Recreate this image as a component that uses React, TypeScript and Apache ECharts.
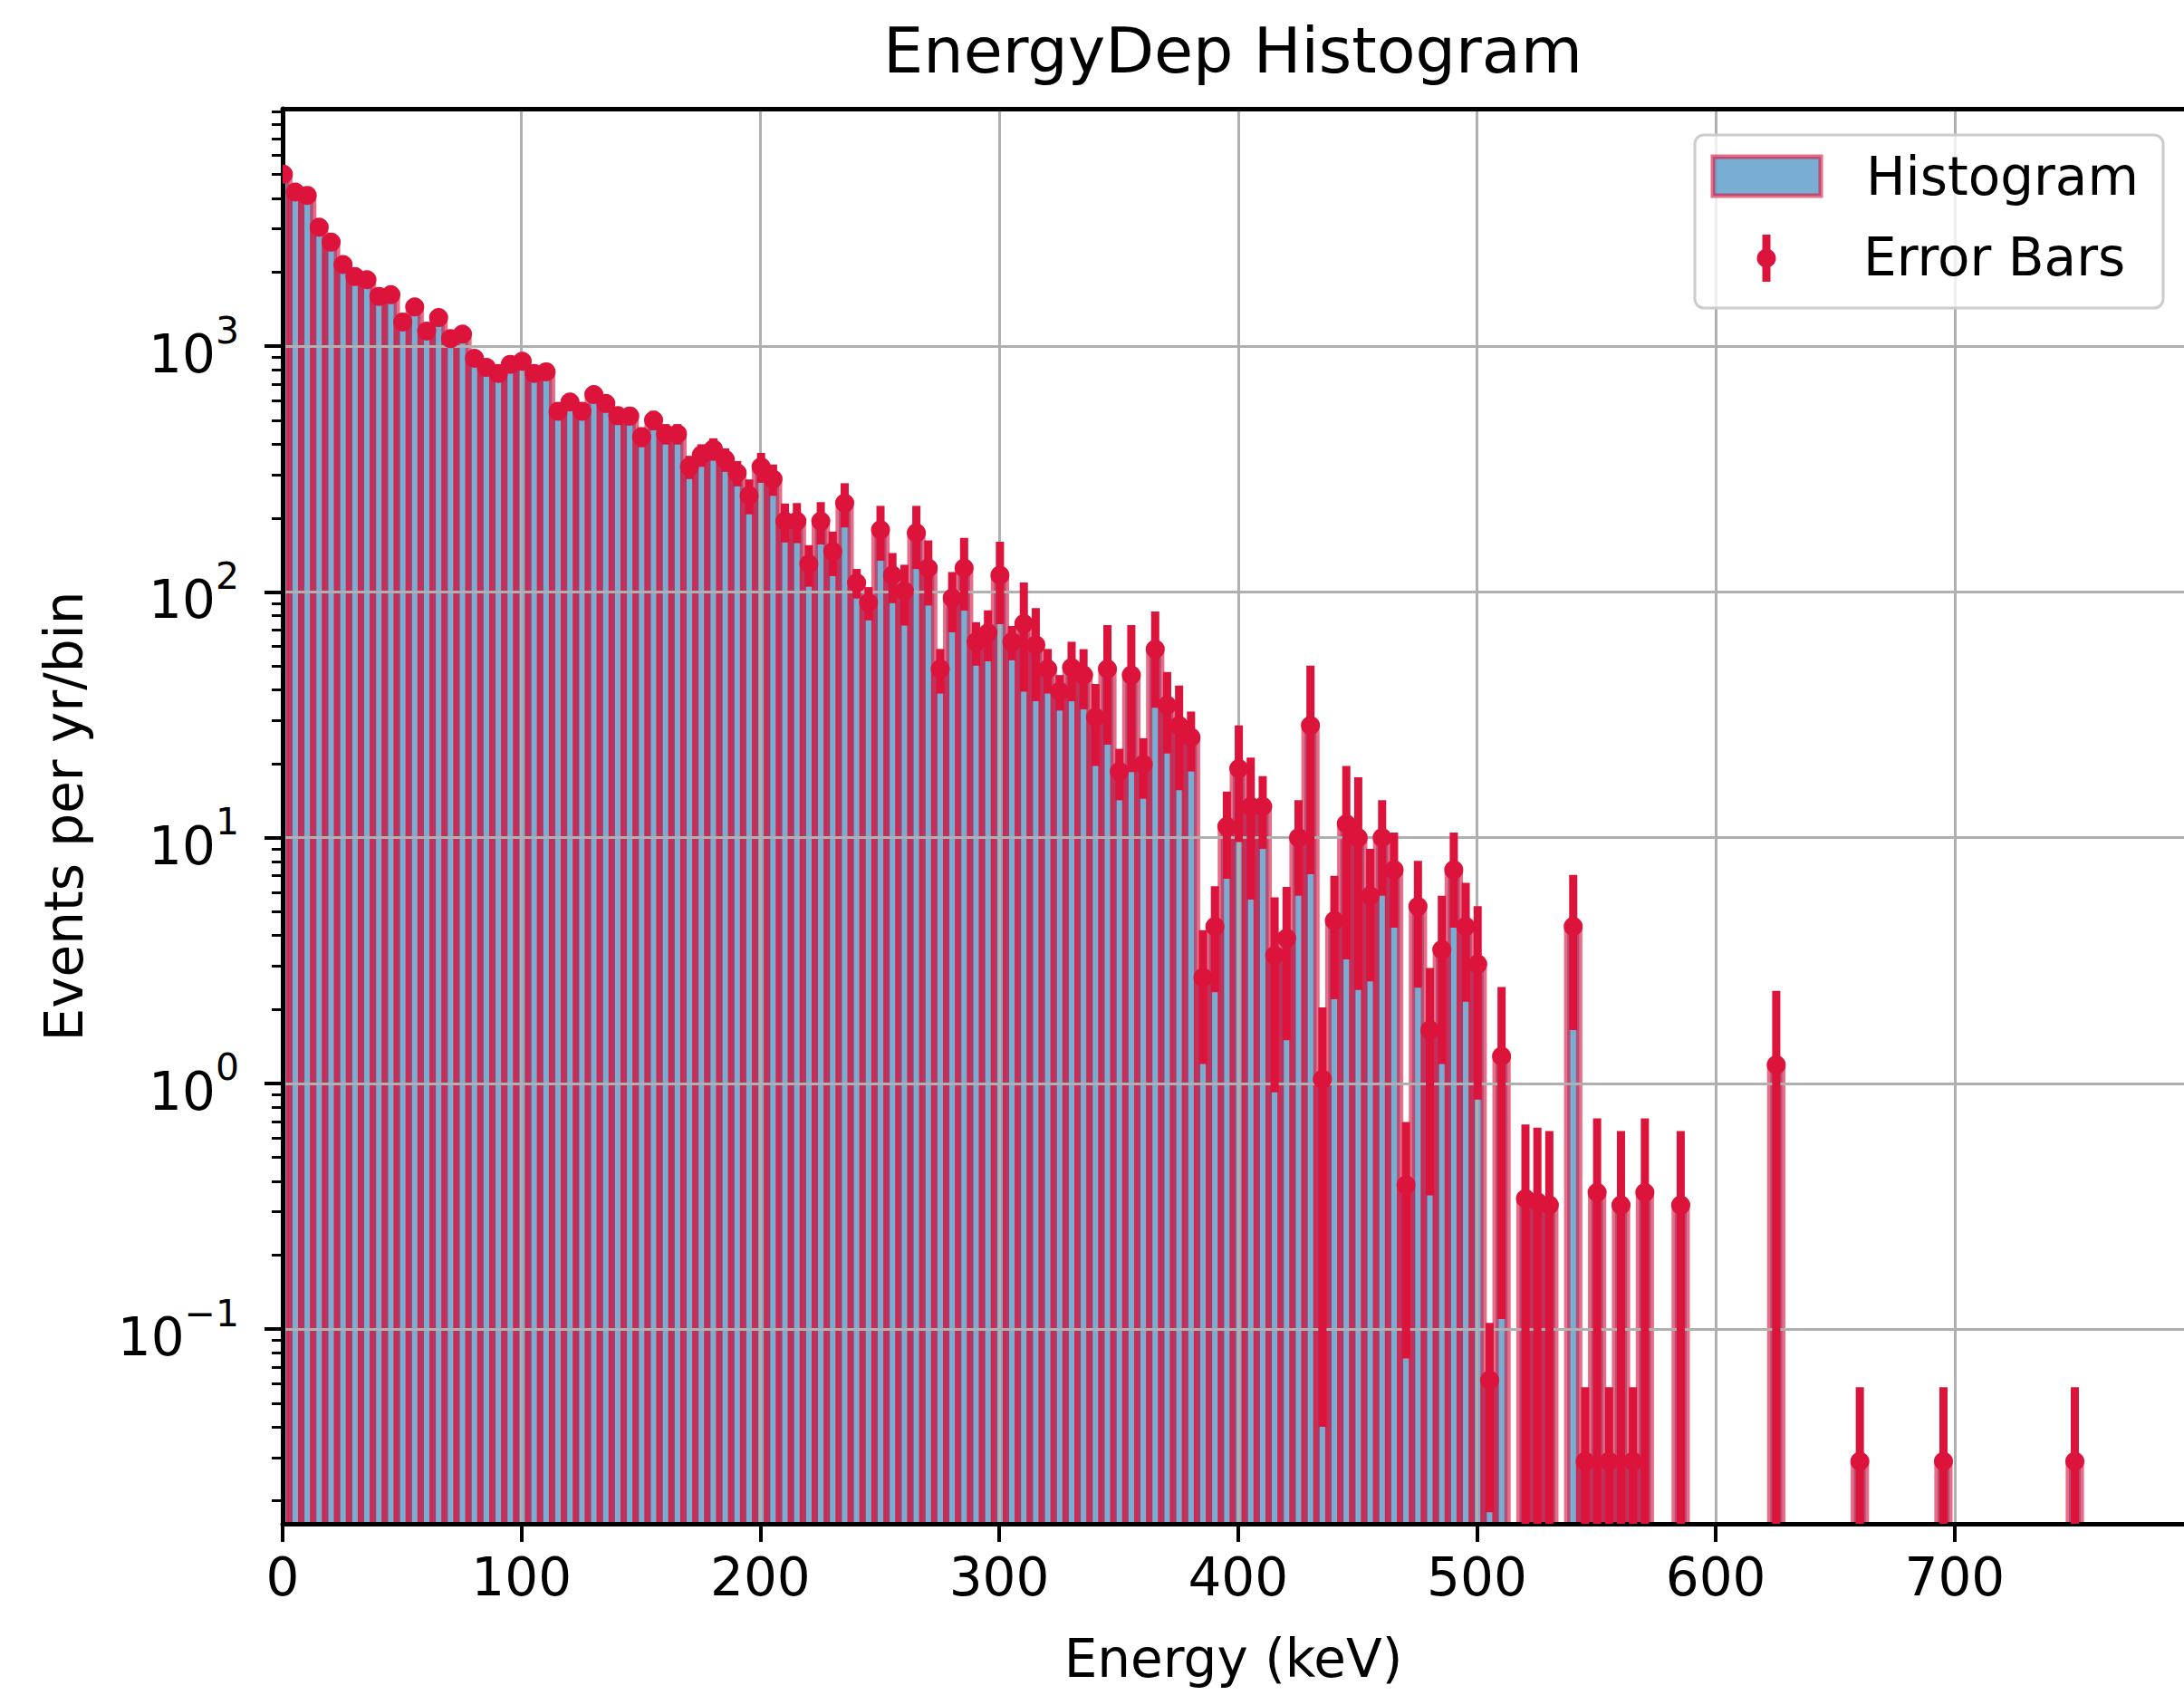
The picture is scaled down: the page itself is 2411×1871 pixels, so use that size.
import React, { useEffect, useRef } from "react";
import * as echarts from "echarts";

// ---------- data ----------
const BIN_WIDTH = 5; // keV
const BIN_START = -2.2; // left edge of the first bin (keV)
const X_MAX = 796;
const Y_MIN = 0.01614;
const Y_MAX = 9258;

// events per yr per 5 keV bin
const counts = [
  5010, 4240, 4110, 3050, 2650, 2150, 1920, 1865, 1595, 1620,
  1255, 1445, 1152, 1308, 1073, 1120, 893, 820, 775, 844,
  868, 775, 787, 544, 593, 544, 636, 585, 522, 520,
  428, 500, 440, 440, 323, 361, 382, 346, 305, 247,
  323, 288, 194, 194, 130, 194, 146, 230, 109, 90.6,
  179, 117, 101, 174, 125, 48.6, 94.5, 125, 62.7, 68.2,
  117, 62.7, 74.3, 60.9, 48.6, 39.4, 49.3, 45.9, 30.9, 48.6,
  18.6, 45.9, 19.9, 58.5, 34.6, 28.6, 25.6, 2.7, 4.35, 11.1,
  19.1, 13.4, 13.4, 3.32, 3.9, 10, 28.6, 1.04, 4.6, 11.4,
  10, 5.8, 10, 7.4, 0.386, 5.25, 1.65, 3.5, 7.4, 4.35,
  3.06, 0.062, 1.29, 0, 0.34, 0.33, 0.32, 0, 4.35, 0.029,
  0.36, 0.029, 0.32, 0.029, 0.36, 0, 0, 0.32, 0, 0,
  0, 0, 0, 0, 0, 1.19, 0, 0, 0, 0,
  0, 0, 0.029, 0, 0, 0, 0, 0, 0, 0.029,
  0, 0, 0, 0, 0, 0, 0, 0, 0, 0,
  0.029,
];

const errors = [
  170, 150, 145, 120, 110, 95, 90, 88, 80, 80,
  70, 75, 65, 70, 62, 64, 55, 52, 50, 55,
  56, 50, 52, 45, 48, 45, 50, 48, 44, 44,
  40, 45, 42, 42, 35, 38, 40, 38, 36, 40,
  45, 42, 35, 36, 25, 38, 30, 47, 15, 14,
  45, 27, 28, 50, 37, 10, 26, 41, 12.6, 16,
  43, 10, 35, 25, 10, 6.5, 13.4, 12.6, 11.3, 24.7,
  4.4, 27.4, 5.5, 24.7, 12.6, 13, 7, 1.5, 2.0, 4.3,
  9.5, 7.8, 4.4, 2.4, 2.4, 4.2, 21.5, 1.0, 2.4, 8.2,
  7.6, 3.2, 4.2, 3.1, 0.31, 2.8, 1.3, 2.3, 3.1, 2.2,
  2.2, 0.044, 1.18, 0, 0.34, 0.33, 0.32, 0, 2.7, 0.029,
  0.36, 0.029, 0.32, 0.029, 0.36, 0, 0, 0.32, 0, 0,
  0, 0, 0, 0, 0, 1.19, 0, 0, 0, 0,
  0, 0, 0.029, 0, 0, 0, 0, 0, 0, 0.029,
  0, 0, 0, 0, 0, 0, 0, 0, 0, 0,
  0.029,
];

const xTicks = [0, 100, 200, 300, 400, 500, 600, 700];
const yMajorTicks = [0.1, 1, 10, 100, 1000];
const yMinorTicks = [
  0.02, 0.03, 0.04, 0.05, 0.06, 0.07, 0.08, 0.09,
  0.2, 0.3, 0.4, 0.5, 0.6, 0.7, 0.8, 0.9,
  2, 3, 4, 5, 6, 7, 8, 9,
  20, 30, 40, 50, 60, 70, 80, 90,
  200, 300, 400, 500, 600, 700, 800, 900,
  2000, 3000, 4000, 5000, 6000, 7000, 8000, 9000,
];

const TITLE = "EnergyDep Histogram";
const X_LABEL = "Energy (keV)";
const Y_LABEL = "Events per yr/bin";
const LEGEND_HIST = "Histogram";
const LEGEND_ERR = "Error Bars";

// ---------- styles ----------
const FONT = "DejaVu Sans";
const CRIMSON = "#DC143C";
const BAR_FILL = "rgba(31,119,180,0.6)";
const BAR_EDGE = "rgba(220,20,60,0.62)";
const GRID_COLOR = "#b0b0b0";

const W = 2411;
const H = 1871;

export default function App() {
  const ref = useRef<HTMLDivElement>(null);

  useEffect(() => {
    document.body.style.margin = "0";
    if (!ref.current) return;
    const chart = echarts.init(ref.current, null, { renderer: "svg", width: W, height: H });

    const barData: number[][] = [];
    const errData: number[][] = [];
    counts.forEach((v, i) => {
      if (v > 0) {
        const x0 = BIN_START + i * BIN_WIDTH;
        barData.push([x0, x0 + BIN_WIDTH, v]);
        const e = errors[i];
        errData.push([x0 + BIN_WIDTH / 2, v, v - e, v + e]);
      }
    });

    const supText = (v: number) => {
      const e = Math.round(Math.log10(v));
      const s = e < 0 ? "\u2212" + String(-e) : String(e);
      return "{b|10}{s|" + s + "}";
    };

    const option: any = {
      animation: false,
      backgroundColor: "#ffffff",
      textStyle: { fontFamily: FONT },
      grid: { left: 312, top: 120, right: 0, bottom: H - 1682, containLabel: false },
      xAxis: [
        {
          type: "value",
          min: 0,
          max: X_MAX,
          position: "bottom",
          z: 3,
          axisLine: { show: true, onZero: false, lineStyle: { color: "#000", width: 5 } },
          axisTick: { show: true, inside: false, length: 20, customValues: xTicks, lineStyle: { color: "#000", width: 4 } },
          axisLabel: { show: true, customValues: xTicks, fontSize: 58, color: "#000", fontFamily: FONT, margin: 30 },
          splitLine: { show: true, lineStyle: { color: GRID_COLOR, width: 3 } },
          name: X_LABEL,
          nameLocation: "middle",
          nameGap: 120,
          nameTextStyle: { fontSize: 58, color: "#000", fontFamily: FONT },
        },
        {
          type: "value",
          min: 0,
          max: X_MAX,
          position: "top",
          z: 3,
          axisLine: { show: true, onZero: false, lineStyle: { color: "#000", width: 5 } },
          axisTick: { show: false },
          axisLabel: { show: false },
          splitLine: { show: false },
        },
      ],
      yAxis: [
        {
          type: "log",
          logBase: 10,
          min: Y_MIN,
          max: Y_MAX,
          position: "left",
          z: 3,
          axisLine: { show: true, onZero: false, lineStyle: { color: "#000", width: 5 } },
          axisTick: { show: true, inside: false, length: 20, customValues: yMajorTicks, lineStyle: { color: "#000", width: 4 } },
          axisLabel: {
            show: true,
            customValues: yMajorTicks,
            margin: 48,
            color: "#000",
            formatter: (v: number) => supText(v),
            rich: {
              b: { fontSize: 58, lineHeight: 76, verticalAlign: "bottom", fontFamily: FONT, color: "#000" },
              s: { fontSize: 41, lineHeight: 76, verticalAlign: "top", fontFamily: FONT, color: "#000" },
            },
          },
          splitLine: { show: true, lineStyle: { color: GRID_COLOR, width: 3 } },
          name: Y_LABEL,
          nameLocation: "middle",
          nameGap: 212,
          nameTextStyle: { fontSize: 58, color: "#000", fontFamily: FONT },
        },
        {
          type: "log",
          logBase: 10,
          min: Y_MIN,
          max: Y_MAX,
          position: "left",
          z: 3,
          axisLine: { show: false },
          axisTick: { show: true, inside: false, length: 12, customValues: yMinorTicks, lineStyle: { color: "#000", width: 3 } },
          axisLabel: { show: false },
          splitLine: { show: false },
        },
      ],
      series: [
        {
          type: "custom",
          name: LEGEND_HIST,
          xAxisIndex: 0,
          yAxisIndex: 0,
          z: 1,
          clip: true,
          data: barData,
          encode: { x: [0, 1], y: 2 },
          renderItem: (params: any, api: any) => {
            const x0 = api.value(0);
            const x1 = api.value(1);
            const v = api.value(2);
            const p0 = api.coord([x0, v]);
            const p1 = api.coord([x1, v]);
            const bottom = params.coordSys.y + params.coordSys.height + 20;
            return {
              type: "rect",
              shape: { x: p0[0], y: p0[1], width: p1[0] - p0[0], height: bottom - p0[1] },
              style: { fill: BAR_FILL, stroke: BAR_EDGE, lineWidth: 7 },
            };
          },
        },
        {
          type: "custom",
          name: LEGEND_ERR,
          xAxisIndex: 0,
          yAxisIndex: 0,
          z: 5,
          clip: true,
          data: errData,
          encode: { x: 0, y: [1, 2, 3] },
          renderItem: (params: any, api: any) => {
            const x = api.value(0);
            const v = api.value(1);
            const lo = api.value(2);
            const hi = api.value(3);
            const pv = api.coord([x, v]);
            const pl = api.coord([x, lo > 0 ? lo : Y_MIN * 0.3]);
            const ph = api.coord([x, hi]);
            return {
              type: "group",
              children: [
                {
                  type: "line",
                  shape: { x1: pl[0], y1: pl[1], x2: ph[0], y2: ph[1] },
                  style: { stroke: CRIMSON, lineWidth: 9 },
                },
                {
                  type: "circle",
                  shape: { cx: pv[0], cy: pv[1], r: 10.5 },
                  style: { fill: CRIMSON },
                },
              ],
            };
          },
        },
      ],
      graphic: [
        {
          type: "text",
          z: 100,
          style: {
            text: TITLE,
            x: 1361,
            y: 56,
            fill: "#000",
            fontSize: 70,
            fontFamily: FONT,
            align: "center",
            verticalAlign: "middle",
            textAlign: "center",
            textVerticalAlign: "middle",
          },
        },
        {
          type: "group",
          z: 100,
          children: [
            {
              type: "rect",
              shape: { x: 1871, y: 149, width: 517, height: 191, r: 10 },
              style: { fill: "rgba(255,255,255,0.8)", stroke: "#cccccc", lineWidth: 3 },
              z: 100,
            },
            {
              type: "rect",
              shape: { x: 1891, y: 173, width: 119, height: 43 },
              style: { fill: BAR_FILL, stroke: BAR_EDGE, lineWidth: 5 },
              z: 101,
            },
            {
              type: "text",
              z: 101,
              style: {
                text: LEGEND_HIST,
                x: 2060,
                y: 195,
                fill: "#000",
                fontSize: 58,
                fontFamily: FONT,
                align: "left",
                verticalAlign: "middle",
                textAlign: "left",
                textVerticalAlign: "middle",
              },
            },
            {
              type: "line",
              z: 101,
              shape: { x1: 1950, y1: 259, x2: 1950, y2: 311 },
              style: { stroke: CRIMSON, lineWidth: 9 },
            },
            {
              type: "circle",
              z: 101,
              shape: { cx: 1950, cy: 285, r: 10.5 },
              style: { fill: CRIMSON },
            },
            {
              type: "text",
              z: 101,
              style: {
                text: LEGEND_ERR,
                x: 2057,
                y: 284,
                fill: "#000",
                fontSize: 58,
                fontFamily: FONT,
                align: "left",
                verticalAlign: "middle",
                textAlign: "left",
                textVerticalAlign: "middle",
              },
            },
          ],
        },
      ],
    };

    chart.setOption(option);
    return () => {
      chart.dispose();
    };
  }, []);

  return <div ref={ref} style={{ width: W, height: H }} />;
}
